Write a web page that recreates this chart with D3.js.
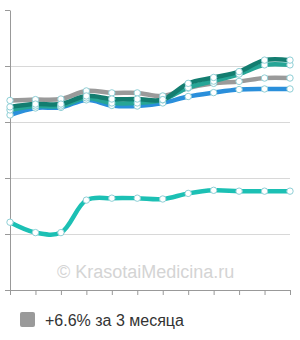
<!DOCTYPE html>
<html>
<head>
<meta charset="utf-8">
<script src="https://cdn.jsdelivr.net/npm/d3@7"></script>
<style>
  body { margin: 0; background: #fff; }
  svg { display: block; font-family: "Liberation Sans", Arial, sans-serif; }
</style>
</head>
<body>
<div class="chart"></div>
<script>
// chart data
var months = ["1", "2", "3", "4", "5", "6", "7", "8", "9", "10", "11", "12"];
var yTicks = [0, 20, 40, 60, 80, 100];

var grayValues = [67.7, 68.0, 68.2, 71.1, 70.4, 70.4, 69.3, 72.1, 73.8, 74.5, 75.7, 75.7];
var darkTealValues = [65.4, 66.4, 66.4, 69.3, 68.2, 68.2, 68.0, 73.8, 75.9, 78.0, 82.1, 82.1];
var tealValues = [64.3, 65.7, 65.7, 68.6, 66.8, 66.8, 67.9, 72.3, 74.6, 77.1, 80.4, 80.4];
var blueValues = [62.5, 65.0, 65.2, 67.9, 65.9, 65.7, 66.8, 69.1, 70.5, 71.6, 71.8, 71.8];
var cyanValues = [24.2, 20.5, 20.5, 32.1, 32.8, 32.8, 32.5, 34.5, 35.6, 35.3, 35.3, 35.3];

var legendLabel = "+6.6% за 3 месяца";
var watermark = "© KrasotaiMedicina.ru";

//==================================
// Set up our chart
//==================================
var svgWidth = 300;
var svgHeight = 340;
var margin = { top: 10, right: 10, bottom: 50, left: 10 };
var width = svgWidth - margin.left - margin.right;
var height = svgHeight - margin.top - margin.bottom;

var svg = d3.select(".chart")
  .append("svg")
  .attr("width", svgWidth)
  .attr("height", svgHeight);

var chart = svg.append("g")
  .attr("transform", "translate(" + margin.left + "," + margin.top + ")");

var xScale = d3.scalePoint().domain(months).range([0, width]);
var yScale = d3.scaleLinear().domain([0, 100]).range([height, 0]);

// gridlines (no line at the top)
chart.append("g")
  .selectAll("line")
  .data(yTicks.slice(1, -1))
  .enter()
  .append("line")
  .attr("x1", 0)
  .attr("x2", width)
  .attr("y1", function(d) { return yScale(d) + 0.5; })
  .attr("y2", function(d) { return yScale(d) + 0.5; })
  .attr("stroke", "#d8d8d8")
  .attr("stroke-width", 1);

// watermark
chart.append("text")
  .attr("x", 47)
  .attr("y", 268)
  .attr("font-size", "18px")
  .attr("fill", "#d4d4d4")
  .text(watermark);

// axes
var bottomAxis = d3.axisBottom(xScale).tickSize(5).tickSizeOuter(0).tickFormat("");
var leftAxis = d3.axisLeft(yScale).tickValues(yTicks).tickSize(5).tickSizeOuter(0).tickFormat("");

var xAxisG = chart.append("g")
  .attr("transform", "translate(0," + height + ")")
  .call(bottomAxis);
var yAxisG = chart.append("g").call(leftAxis);

[xAxisG, yAxisG].forEach(function(g) {
  g.selectAll("path").attr("stroke", "#999");
  g.selectAll("line").attr("stroke", "#999");
});

// lines
var series = [
  { values: blueValues, color: "#2a8fdb" },
  { values: grayValues, color: "#9a9a9a" },
  { values: tealValues, color: "#26a596" },
  { values: darkTealValues, color: "#137d70" },
  { values: cyanValues, color: "#1cc0b4" }
];

var line = d3.line()
  .x(function(d, i) { return xScale(months[i]); })
  .y(function(d) { return yScale(d); })
  .curve(d3.curveCatmullRom.alpha(0.5));

chart.selectAll(".series")
  .data(series)
  .enter()
  .append("path")
  .attr("class", "series")
  .attr("d", function(s) { return line(s.values); })
  .attr("fill", "none")
  .attr("stroke", function(s) { return s.color; })
  .attr("stroke-width", 4.5)
  .attr("stroke-linejoin", "round");

// markers on top of all lines
series.forEach(function(s) {
  chart.append("g")
    .selectAll("circle")
    .data(s.values)
    .enter()
    .append("circle")
    .attr("cx", function(d, i) { return xScale(months[i]); })
    .attr("cy", function(d) { return yScale(d); })
    .attr("r", 3.2)
    .attr("fill", "#fff")
    .attr("stroke", "#8fcfd6")
    .attr("stroke-width", 1);
});

// legend
var legend = svg.append("g").attr("transform", "translate(20,312)");
legend.append("rect")
  .attr("width", 15)
  .attr("height", 15)
  .attr("rx", 2)
  .attr("fill", "#9a9a9a");
legend.append("text")
  .attr("x", 25)
  .attr("y", 13.5)
  .attr("font-size", "16px")
  .attr("fill", "#333")
  .text(legendLabel);
</script>
</body>
</html>
